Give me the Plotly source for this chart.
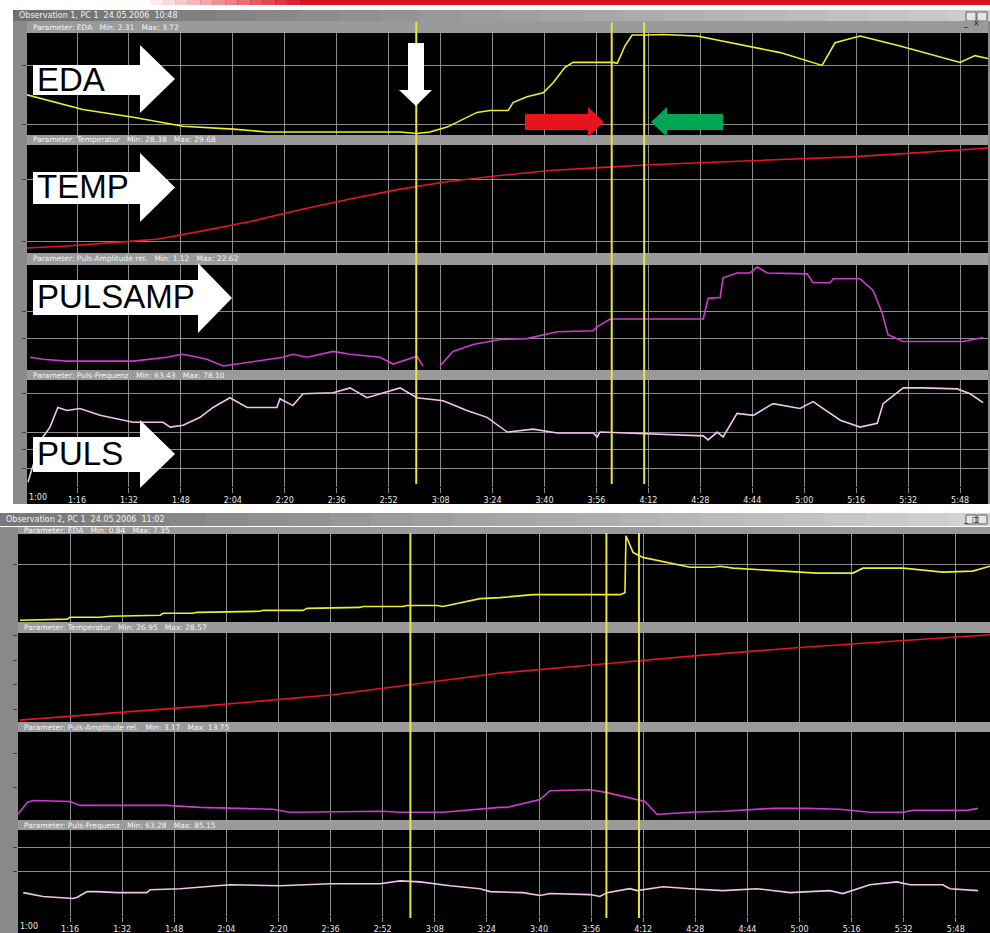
import plotly.graph_objects as go

W, H = 990, 933

# ---------------- data ----------------
tick_secs = [76, 92, 108, 124, 140, 156, 172, 188, 204, 220, 236, 252, 268, 284, 300, 316, 332, 348]
tick_labels = ["1:16", "1:32", "1:48", "2:04", "2:20", "2:36", "2:52", "3:08", "3:24", "3:40",
               "3:56", "4:12", "4:28", "4:44", "5:00", "5:16", "5:32", "5:48"]
first_label = "1:00"
cursor_secs = [180.5, 240.7, 250.7]
top_range = [60.6, 356.6]
bottom_range = [60.0, 358.5]

# Screenshot 1 (values in % of display range)
eda1_t = [60.6, 77.8, 93.3, 108.7, 124.1, 134.5, 153.9, 175.5, 180.7, 184.7, 190.0, 194.9, 199.2, 203.2,
          208.8, 210.3, 214.6, 219.6, 222.6, 226.3, 228.8, 241.1, 242.4, 244.8, 247.0, 251.6, 256.5,
          267.0, 277.2, 292.6, 305.5, 309.5, 317.2, 329.5, 348.0, 352.6, 356.6]
eda1_v = [39.2, 24.5, 16.7, 7.8, 4.9, 2.0, 2.0, 2.0, 0.5, 2.0, 6.9, 14.7, 21.6, 23.5,
          23.5, 31.4, 37.3, 41.2, 51.0, 66.7, 71.6, 71.6, 70.6, 88.2, 99.0, 99.0, 99.5,
          98.0, 91.2, 81.4, 68.6, 91.2, 98.0, 88.0, 71.6, 78.4, 75.5]

temp1_t = [60.6, 72.9, 89.2, 100.6, 113.9, 129.3, 144.7, 160.1, 175.5, 190.9, 206.3, 221.7, 237.1,
           252.5, 267.9, 283.3, 298.7, 314.1, 329.5, 344.9, 356.6]
temp1_v = [3.7, 5.6, 9.3, 12.0, 19.4, 28.7, 39.8, 50.0, 59.3, 66.7, 72.2, 76.9, 79.6,
           82.4, 84.3, 86.1, 88.0, 89.8, 92.6, 95.4, 98.1]

pa1_t = [61.5, 65.5, 72.9, 93.3, 103.7, 108.3, 111.7, 116.0, 121.0, 129.3, 139.5, 142.5, 146.9, 154.9,
         160.1, 169.3, 173.4, 180.7, 182.6, None, 187.8, 191.8, 198.0, 206.3, 214.6, 223.9, 235.0,
         236.2, 240.2, 268.9, 270.4, 274.1, 275.0, 279.3, 283.3, 285.5, 288.6, 300.9, 302.7, 308.0,
         308.9, 317.2, 321.2, 324.0, 325.8, 330.5, 349.0, 355.1]
pa1_v = [11.4, 9.5, 7.6, 7.6, 11.4, 14.3, 12.4, 9.5, 2.9, 6.7, 11.4, 14.3, 11.4, 17.1,
         14.3, 11.4, 4.8, 12.4, 2.9, None, 2.9, 17.1, 23.8, 28.6, 29.5, 36.2, 37.1,
         41.0, 48.6, 48.6, 68.6, 69.5, 88.6, 93.3, 93.3, 99.0, 93.3, 92.4, 83.8, 83.8,
         87.6, 87.6, 76.2, 54.3, 33.3, 26.7, 26.7, 30.5]

puls1_t = [60.9, 62.4, 65.5, 67.7, 70.1, 72.9, 76.9, 83.1, 93.3, 102.5, 104.7, 108.7, 113.9, 117.9,
           123.1, 128.4, 137.6, 138.5, 142.5, 145.6, 154.9, 160.1, 165.3, 175.5, 180.7, 188.8, 196.1,
           202.3, 208.5, 216.5, 223.9, 235.0, 236.2, 237.1, 268.9, 270.4, 273.2, 275.0, 279.3, 284.3,
           290.4, 298.7, 302.7, 311.1, 317.2, 322.5, 324.3, 330.5, 336.6, 347.1, 351.1, 355.1]
puls1_v = [3.7, 18.7, 46.7, 56.1, 74.8, 72.0, 73.8, 67.3, 60.7, 60.7, 56.1, 57.9, 65.4, 74.8,
           84.1, 74.8, 74.8, 83.2, 76.6, 87.9, 88.8, 93.5, 84.1, 93.5, 84.1, 81.3, 72.0,
           65.4, 51.4, 54.2, 50.5, 50.5, 46.7, 51.4, 47.7, 43.9, 51.4, 46.7, 69.2, 67.3,
           78.5, 73.8, 80.4, 62.6, 56.1, 59.8, 78.5, 93.5, 93.5, 92.5, 87.9, 79.4]

# Screenshot 2
eda2_t = [60.6, 75.1, 76.0, 85.2, 88.3, 103.6, 104.6, 113.8, 115.0, 134.3, 135.3, 147.5, 148.8, 165.0,
          166.0, 178.2, 179.5, 188.7, 190.5, 193.6, 197.9, 201.9, 208.0, 214.2, 218.2, 244.9, 246.4,
          246.7, 247.3, 248.9, 251.9, 259.3, 266.4, 273.4, 275.6, 279.6, 294.9, 305.4, 316.4, 319.5,
          331.8, 337.0, 344.0, 353.2, 358.5]
eda2_v = [1.1, 2.3, 4.5, 4.5, 5.7, 6.8, 9.1, 9.1, 10.2, 11.4, 12.5, 12.5, 14.8, 15.9,
          17.0, 17.0, 18.2, 18.2, 17.0, 19.3, 22.7, 26.1, 27.3, 29.5, 30.7, 30.7, 33.0,
          98.9, 93.2, 79.5, 73.9, 68.2, 62.5, 62.5, 63.6, 61.4, 58.0, 55.7, 55.7, 61.4,
          61.4, 59.1, 56.8, 58.0, 63.6]

temp2_t = [60.6, 75.1, 95.3, 115.9, 136.5, 156.7, 180.4, 187.5, 208.0, 238.7, 269.4, 300.1, 330.8, 358.5]
temp2_v = [1.1, 5.6, 11.2, 16.9, 23.6, 30.3, 41.6, 44.9, 55.1, 65.2, 75.3, 84.3, 92.1, 99.0]

pa2_t = [60.0, 62.8, 64.6, 76.0, 79.1, 105.8, 110.7, 115.9, 138.3, 143.5, 172.1, 177.3, 190.5, 199.7,
         208.0, 210.2, 220.3, 223.4, 235.7, 240.9, 250.1, 252.5, 256.2, 257.1, 266.4, 276.5, 291.8,
         302.3, 312.4, 321.6, 331.8, 334.8, 351.4, 354.8]
pa2_v = [5.7, 19.3, 21.6, 20.5, 15.9, 15.9, 14.8, 13.6, 11.4, 8.0, 9.1, 8.0, 8.0, 11.4,
         13.6, 13.6, 22.7, 33.0, 34.1, 30.7, 22.7, 20.5, 5.7, 5.7, 8.0, 9.1, 12.5,
         12.5, 11.4, 8.0, 8.0, 10.2, 10.2, 12.5]

puls2_t = [61.6, 67.7, 76.9, 78.1, 81.2, 84.3, 90.4, 99.6, 100.6, 109.8, 125.1, 140.5, 155.8, 171.2,
           177.3, 183.5, 192.7, 201.9, 205.0, 215.1, 220.3, 223.4, 235.7, 238.7, 240.9, 247.9, 250.1,
           258.1, 266.4, 276.5, 286.9, 297.1, 309.3, 313.3, 321.6, 329.9, 333.9, 344.0, 346.2, 351.4,
           354.8]
puls2_v = [26.7, 22.1, 19.8, 20.9, 27.9, 27.9, 26.7, 26.7, 30.2, 31.4, 36.0, 34.9, 37.2, 37.2,
           40.7, 39.5, 34.9, 31.4, 27.9, 26.7, 23.3, 25.6, 24.4, 22.1, 26.7, 31.4, 29.1,
           33.7, 31.4, 29.1, 31.4, 26.7, 29.1, 25.6, 36.0, 39.5, 36.0, 36.0, 31.4, 30.2,
           29.1]

panel_titles = [
    "Parameter: EDA   Min: 2.31   Max: 3.72",
    "Parameter: Temperatur   Min: 28.38   Max: 29.68",
    "Parameter: Puls-Amplitude rel.   Min: 1.12   Max: 22.62",
    "Parameter: Puls-Frequenz   Min: 63.43   Max: 78.10",
    "Parameter: EDA   Min: 0.84   Max: 7.35",
    "Parameter: Temperatur   Min: 26.95   Max: 28.57",
    "Parameter: Puls-Amplitude rel.   Min: 3.17   Max: 13.75",
    "Parameter: Puls-Frequenz   Min: 63.28   Max: 85.15",
]
window_titles = ["Observation 1, PC 1  24.05.2006  10:48", "Observation 2, PC 1  24.05.2006  11:02"]
arrow_labels = ["EDA", "TEMP", "PULSAMP", "PULS"]

# ---------------- styles ----------------
YEL, RED, MAG, PINK = "#eeee30", "#e2142a", "#cf3acf", "#f0c4f0"
CURSOR = "#e6e63a"
GRID = "#8c8c8c"
BAR = "#9a9a9a"
STRIP = "#8a8a8a"


def fx(px):
    return px / W


def fy(py):
    return 1 - py / H


# panel layout: (times, values, color, x pixel span, y pixel span, x range, grid vals, showgrid, labels, title-bar span)
panels = [
    (eda1_t, eda1_v, YEL, (27, 988), (33, 135), top_range, [68.6, 9.8], True, False, (21, 33)),
    (temp1_t, temp1_v, RED, (27, 988), (145, 253), top_range, [68.0, 10.0], True, False, (135, 145)),
    (pa1_t, pa1_v, MAG, (27, 988), (265, 370), top_range, [56.2, 29.5], True, False, (253, 265)),
    (puls1_t, puls1_v, PINK, (27, 988), (380, 487), top_range, [87.9, 51.4, 34.6, 16.8], True, True, (370, 380)),
    (eda2_t, eda2_v, YEL, (18, 990), (534, 622), bottom_range, [65.9], True, False, (527, 534)),
    (temp2_t, temp2_v, RED, (18, 990), (633, 722), bottom_range, [97.8, 69.7, 41.6, 13.5], False, False, (622, 633)),
    (pa2_t, pa2_v, MAG, (18, 990), (732, 820), bottom_range, [76.1, 36.4], False, False, (722, 732)),
    (puls2_t, puls2_v, PINK, (18, 990), (830, 916), bottom_range, [80.2, 51.2], True, True, (820, 830)),
]

fig = go.Figure()
layout = dict(
    width=W, height=H, margin=dict(l=0, r=0, t=0, b=0),
    paper_bgcolor="white", plot_bgcolor="black", showlegend=False, hovermode=False,
)
shapes = []
annotations = []

# backgrounds: red banner, window frames, strips
shapes.append(dict(type="rect", xref="paper", yref="paper", x0=fx(300), x1=fx(990), y0=fy(5), y1=fy(0),
                   fillcolor="#d8141e", line_width=0, layer="below"))
for i in range(12):
    a = (i + 1) / 13
    shapes.append(dict(type="rect", xref="paper", yref="paper", x0=fx(150 + i * 12.5), x1=fx(150 + (i + 1) * 12.5 + 0.5),
                       y0=fy(5), y1=fy(0), fillcolor="#d8141e", opacity=a, line_width=0, layer="below"))


def gradient_bar(x0, x1, y0, y1, c0, c1, n=24):
    for i in range(n):
        t = i / (n - 1)
        r = int(c0[0] + (c1[0] - c0[0]) * t)
        g = int(c0[1] + (c1[1] - c0[1]) * t)
        b = int(c0[2] + (c1[2] - c0[2]) * t)
        xa = x0 + (x1 - x0) * i / n
        xb = x0 + (x1 - x0) * (i + 1) / n + 0.6
        shapes.append(dict(type="rect", xref="paper", yref="paper", x0=fx(xa), x1=fx(min(xb, x1)), y0=fy(y1), y1=fy(y0),
                           fillcolor=f"rgb({r},{g},{b})", line_width=0, layer="below"))


# window title bars
gradient_bar(13, 990, 10, 21, (112, 112, 112), (205, 205, 205))
gradient_bar(0, 990, 513, 526, (120, 120, 120), (210, 210, 210))
for (wx, wy), txt in zip([(17, 15.5), (4, 519.5)], window_titles):
    annotations.append(dict(x=fx(wx), y=fy(wy), xref="paper", yref="paper", text=txt, showarrow=False,
                            xanchor="left", yanchor="middle", font=dict(size=8, color="#f2f2f2", family="DejaVu Sans")))
# window buttons
for bx, ch, by in [(966, "_", 12), (977, "×", 12), (966, "_", 515), (977, "□", 515)]:
    shapes.append(dict(type="rect", xref="paper", yref="paper", x0=fx(bx), x1=fx(bx + 10), y0=fy(by + 9), y1=fy(by),
                       fillcolor="#e4e4e4", line=dict(color="#606060", width=1), layer="below"))
    annotations.append(dict(x=fx(bx + 5), y=fy(by + 4.5), xref="paper", yref="paper", text=ch, showarrow=False,
                            font=dict(size=8, color="#202020", family="DejaVu Sans")))

# left strips and black label strips
shapes.append(dict(type="rect", xref="paper", yref="paper", x0=fx(13), x1=fx(27), y0=fy(504), y1=fy(21),
                   fillcolor=STRIP, line_width=0, layer="below"))
shapes.append(dict(type="rect", xref="paper", yref="paper", x0=fx(0), x1=fx(18), y0=fy(933), y1=fy(527),
                   fillcolor=STRIP, line_width=0, layer="below"))
shapes.append(dict(type="rect", xref="paper", yref="paper", x0=fx(27), x1=fx(988), y0=fy(504), y1=fy(487),
                   fillcolor="black", line_width=0, layer="below"))
shapes.append(dict(type="rect", xref="paper", yref="paper", x0=fx(18), x1=fx(990), y0=fy(933), y1=fy(916),
                   fillcolor="black", line_width=0, layer="below"))
shapes.append(dict(type="rect", xref="paper", yref="paper", x0=fx(988), x1=fx(990), y0=fy(504), y1=fy(21),
                   fillcolor=STRIP, line_width=0, layer="below"))

for k, (t, v, col, xs, ys, xr, gv, sg, lab, bar) in enumerate(panels, start=1):
    xa = "x" if k == 1 else f"x{k}"
    ya = "y" if k == 1 else f"y{k}"
    fig.add_trace(go.Scatter(x=t, y=v, mode="lines", line=dict(color=col, width=1.6),
                             xaxis=xa, yaxis=ya, connectgaps=False))
    layout[f"xaxis{'' if k == 1 else k}"] = dict(
        domain=[fx(xs[0]), fx(xs[1])], anchor=ya, range=xr, tickvals=tick_secs, ticktext=tick_labels,
        showgrid=True, gridcolor=GRID, gridwidth=1, zeroline=False, showline=False,
        showticklabels=lab, ticks="outside" if lab else "", ticklen=5, tickcolor=GRID,
        tickfont=dict(size=8, color="#e8e8e8", family="DejaVu Sans"), fixedrange=True,
    )
    layout[f"yaxis{'' if k == 1 else k}"] = dict(
        domain=[fy(ys[1]), fy(ys[0])], anchor=xa, range=[-1, 101], tickvals=gv,
        showgrid=sg, gridcolor=GRID, gridwidth=1, zeroline=False, showline=False,
        showticklabels=False, ticks="outside", ticklen=4, tickcolor="#404040", fixedrange=True,
    )
    # panel title bar
    shapes.append(dict(type="rect", xref="paper", yref="paper", x0=fx(xs[0]), x1=fx(xs[1]),
                       y0=fy(bar[1]), y1=fy(bar[0]), fillcolor=BAR, line_width=0, layer="below"))
    annotations.append(dict(x=fx(xs[0] + 4), y=fy((bar[0] + bar[1]) / 2), xref="paper", yref="paper",
                            text=panel_titles[k - 1], showarrow=False, xanchor="left", yanchor="middle",
                            font=dict(size=7.5, color="#f4f4f4", family="DejaVu Sans")))
    if lab:
        annotations.append(dict(x=fx(xs[0] + 11), y=fy(ys[1] + 10.5), xref="paper", yref="paper",
                                text=first_label, showarrow=False, xanchor="center", yanchor="middle",
                                font=dict(size=8, color="#e8e8e8", family="DejaVu Sans")))

# cursor lines
for s in cursor_secs:
    shapes.append(dict(type="line", xref="x", yref="paper", x0=s, x1=s, y0=fy(484), y1=fy(22),
                       line=dict(color=CURSOR, width=2), layer="above"))
    shapes.append(dict(type="line", xref="x5", yref="paper", x0=s, x1=s, y0=fy(918), y1=fy(533),
                       line=dict(color=CURSOR, width=2), layer="above"))


def poly(pts):
    return "M " + " L ".join(f"{fx(x):.5f},{fy(y):.5f}" for x, y in pts) + " Z"


def right_arrow(x0, xh, tip, b0, b1, h0, h1):
    yc = (h0 + h1) / 2
    return poly([(x0, b0), (xh, b0), (xh, h0), (tip, yc), (xh, h1), (xh, b1), (x0, b1)])


# big white label arrows
label_arrows = [
    (33, 140, 175, 65, 95, 45, 113),
    (33, 140, 175, 172, 204, 153, 222),
    (33, 198, 232, 280, 315, 263, 333),
    (33, 140, 175, 437, 472, 420, 488),
]
for (x0, xh, tip, b0, b1, h0, h1), txt in zip(label_arrows, arrow_labels):
    shapes.append(dict(type="path", xref="paper", yref="paper", path=right_arrow(x0, xh, tip, b0, b1, h0, h1),
                       fillcolor="white", line_width=0, layer="above"))
    annotations.append(dict(x=fx(35), y=fy((b0 + b1) / 2 - 1), xref="paper", yref="paper", text=txt,
                            showarrow=False, xanchor="left", yanchor="middle",
                            font=dict(size=33, color="black", family="Liberation Sans")))

# white down arrow
shapes.append(dict(type="path", xref="paper", yref="paper",
                   path=poly([(408, 43), (424, 43), (424, 90), (432, 90), (416, 106), (399, 90), (408, 90)]),
                   fillcolor="white", line_width=0, layer="above"))
# red right arrow
shapes.append(dict(type="path", xref="paper", yref="paper", path=right_arrow(525, 588, 604, 114, 130, 107, 137),
                   fillcolor="#e8141c", line_width=0, layer="above"))
# green left arrow
shapes.append(dict(type="path", xref="paper", yref="paper",
                   path=poly([(723, 114), (667, 114), (667, 107), (651, 122), (667, 137), (667, 130), (723, 130)]),
                   fillcolor="#00a651", line_width=0, layer="above"))

layout["shapes"] = shapes
layout["annotations"] = annotations
fig.update_layout(**layout)

fig.write_html("out.html", config={"displayModeBar": False, "staticPlot": True},
               post_script="document.body.style.margin='0';document.body.style.overflow='hidden';")
